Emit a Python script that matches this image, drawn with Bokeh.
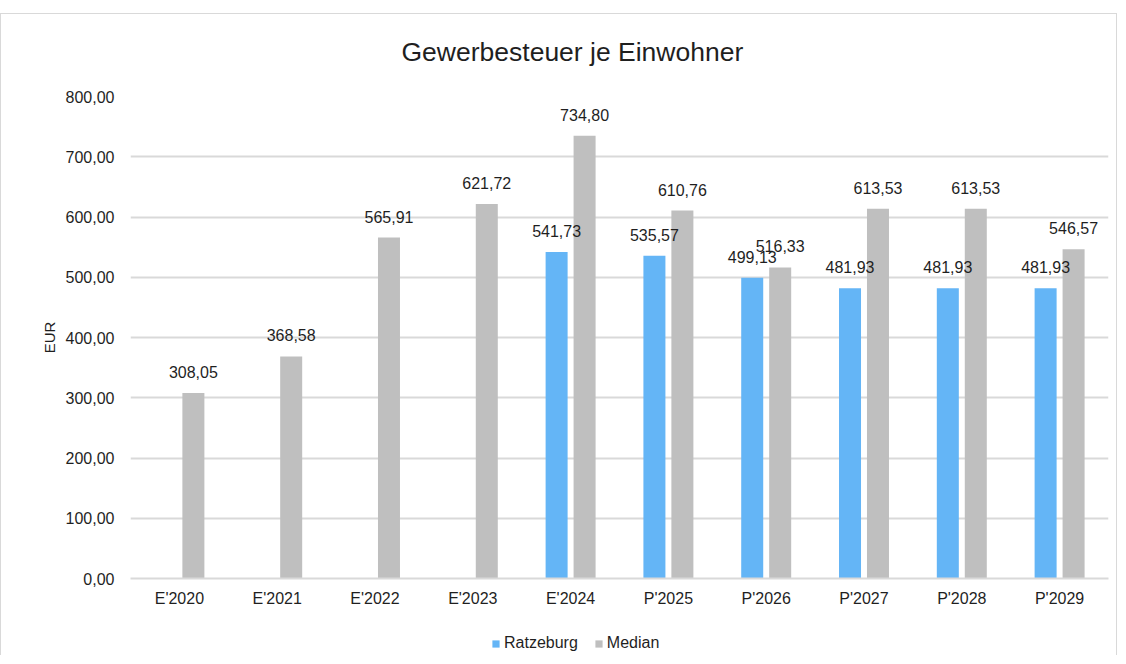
from bokeh.plotting import figure
from bokeh.layouts import column
from bokeh.models import (ColumnDataSource, Range1d, FixedTicker, CustomJSTickFormatter,
                          Legend, LegendItem, Spacer)
from bokeh.transform import dodge
from bokeh.core.properties import value
from bokeh.embed import file_html
from bokeh.resources import INLINE

categories = ["E'2020", "E'2021", "E'2022", "E'2023", "E'2024",
              "P'2025", "P'2026", "P'2027", "P'2028", "P'2029"]
ratzeburg = [None, None, None, None, 541.73, 535.57, 499.13, 481.93, 481.93, 481.93]
median = [308.05, 368.58, 565.91, 621.72, 734.80, 610.76, 516.33, 613.53, 613.53, 546.57]
y_ticks = [0, 100, 200, 300, 400, 500, 600, 700, 800]
series_names = ["Ratzeburg", "Median"]

BLUE = "#64B5F6"
GRAY = "#BFBFBF"
TXT = "#1f1f1f"
FONT = "Liberation Sans"
LINE = "#d9d9d9"


def fmt(v):
    return f"{v:.2f}".replace(".", ",")


r_cats = [c for c, v in zip(categories, ratzeburg) if v is not None]
r_vals = [v for v in ratzeburg if v is not None]
src_r = ColumnDataSource(dict(cat=r_cats, val=r_vals, lbl=[fmt(v) for v in r_vals]))
src_m = ColumnDataSource(dict(cat=categories, val=median, lbl=[fmt(v) for v in median]))

p = figure(x_range=categories, y_range=Range1d(0, 800), width=1117, height=609,
           output_backend="svg", toolbar_location=None,
           min_border_left=130, min_border_right=9, min_border_top=92, min_border_bottom=35)
p.styles = {"box-shadow": f"inset 0 9px 0 0 #ffffff, inset 0 10px 0 0 {LINE}, "
                          f"inset 1px 0 0 0 {LINE}, inset -1px 0 0 0 {LINE}",
            "background-color": "#ffffff"}
p.outline_line_color = None
p.background_fill_alpha = 0
p.border_fill_alpha = 0

# title
p.title.text = "Gewerbesteuer je Einwohner"
p.title.text_font = FONT
p.title.text_font_size = "26.5px"
p.title.text_font_style = "normal"
p.title.text_color = TXT
p.title.align = "left"
p.title.offset = 271
p.title.standoff = 60

w = 0.225
off = 0.143
p.vbar(x=dodge("cat", -off, range=p.x_range), top="val", width=w, source=src_r,
       fill_color=BLUE, line_color=None)
p.vbar(x=dodge("cat", off, range=p.x_range), top="val", width=w, source=src_m,
       fill_color=GRAY, line_color=None)

for src, o in ((src_r, -off), (src_m, off)):
    p.text(x=dodge("cat", o, range=p.x_range), y="val", text="lbl", source=src,
           text_align="center", text_baseline="alphabetic", y_offset=-21,
           text_font=value(FONT), text_font_size="16px", text_color=TXT)

# axes
p.yaxis.ticker = FixedTicker(ticks=y_ticks)
p.yaxis.formatter = CustomJSTickFormatter(code="return tick.toFixed(2).replace('.', ',');")
p.yaxis.axis_line_color = None
p.yaxis.major_tick_line_color = None
p.yaxis.minor_tick_line_color = None
p.yaxis.major_label_standoff = 10
p.yaxis.axis_label = "EUR"
p.yaxis.axis_label_standoff = 5
p.yaxis.axis_label_text_font_style = "normal"
p.yaxis.axis_label_text_font = FONT
p.yaxis.axis_label_text_font_size = "15px"
p.yaxis.axis_label_text_color = TXT

p.xaxis.axis_line_color = LINE
p.xaxis.axis_line_width = 2
p.xaxis.major_tick_line_color = None
p.xaxis.minor_tick_line_color = None
p.xaxis.major_label_standoff = 5

for ax in (p.xaxis, p.yaxis):
    ax.major_label_text_font = FONT
    ax.major_label_text_font_size = "16px"
    ax.major_label_text_color = TXT

p.xgrid.grid_line_color = None
p.ygrid.grid_line_color = LINE
p.ygrid.grid_line_width = 2
p.x_range.range_padding = 0

# legend strip
lg = figure(width=1117, height=42, x_range=Range1d(0, 1), y_range=Range1d(0, 1),
            output_backend="svg", toolbar_location=None,
            x_axis_location=None, y_axis_location=None,
            min_border=0)
lg.styles = {"box-shadow": f"inset 1px 0 0 0 {LINE}, inset -1px 0 0 0 {LINE}",
             "background-color": "#ffffff"}
lg.outline_line_color = None
lg.background_fill_alpha = 0
lg.border_fill_alpha = 0
lg.xgrid.grid_line_color = None
lg.ygrid.grid_line_color = None
lr = lg.vbar(x=[-10], top=[-10], bottom=[-11], width=0.1, fill_color=BLUE, line_color=None)
lm = lg.vbar(x=[-10], top=[-10], bottom=[-11], width=0.1, fill_color=GRAY, line_color=None)
legend = Legend(items=[LegendItem(label=series_names[0], renderers=[lr]),
                       LegendItem(label=series_names[1], renderers=[lm])],
                orientation="horizontal", location=(361, 3),
                padding=0, margin=0, spacing=16, label_standoff=4,
                glyph_width=9, glyph_height=9, border_line_color=None,
                label_text_font=FONT, label_text_font_size="16px", label_text_color=TXT,
                background_fill_alpha=0)
lg.add_layout(legend, "center")

layout = column(Spacer(height=4, width=1117), p, lg, spacing=0)
open("out.html", "w").write(file_html(layout, INLINE))
